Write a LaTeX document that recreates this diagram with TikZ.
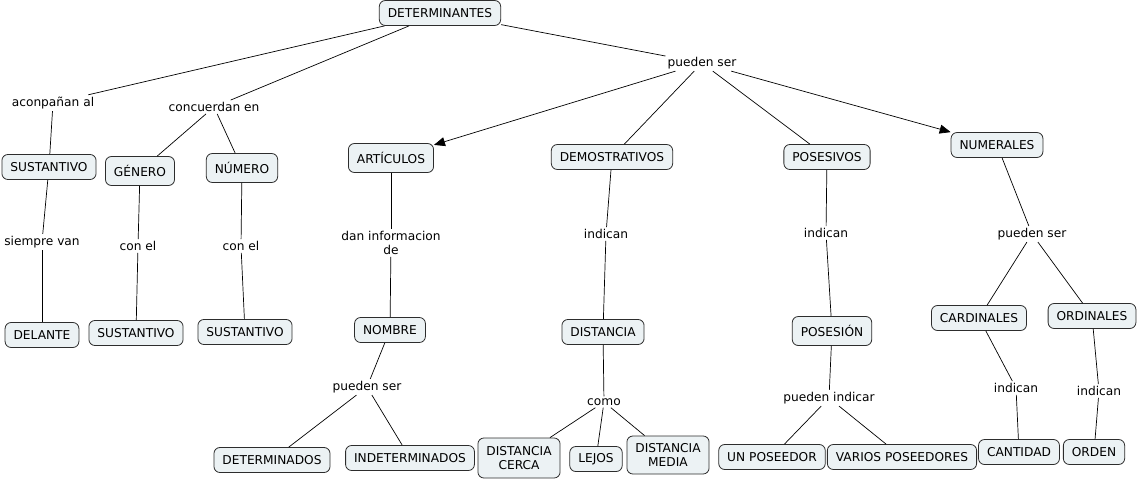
\documentclass[tikz,border=0pt]{standalone}
\usepackage{fontspec}
\setmainfont{DejaVu Sans}
\usepackage{xcolor}
\usetikzlibrary{arrows.meta}
\definecolor{cfill}{RGB}{236,242,244}
\definecolor{cline}{RGB}{45,45,45}

\begin{document}
\begin{tikzpicture}[
  x=1pt,y=-1pt,
  font=\fontsize{12.2}{14}\selectfont,
  c/.style={rectangle,rounded corners=6pt,draw=cline,fill=cfill,line width=0.8pt,minimum height=25pt,inner xsep=8.5pt,inner ysep=3pt,align=center},
  ct/.style={c,minimum height=29pt},
  l/.style={inner sep=2pt,align=center},
  e/.style={line width=0.7pt},
  a/.style={e,-{Triangle[length=11pt,width=9pt]}},
]
\useasboundingbox (0,0) rectangle (1138,479);

% Root
\node[c] (det) at (440,13) {DETERMINANTES};
\node[l] (acomp) at (53,103) {aconpañan al};
\node[l] (conc) at (214,107) {concuerdan en};
\node[l] (pser) at (702,63) {pueden ser};
\draw[e] (det)--(acomp); \draw[e] (det)--(conc); \draw[e] (det)--(pser);

% Sustantivo, genero, numero
\node[c] (sust1) at (49,167) {SUSTANTIVO};
\node[ct] (gen) at (140,171) {GÉNERO};
\node[ct] (num) at (242,168) {NÚMERO};
\node[l] (siem) at (42,242) {siempre van};
\node[l] (con1) at (138,246) {con el};
\node[l] (con2) at (241,246) {con el};
\node[c] (del) at (42,335) {DELANTE};
\node[c] (sust2) at (136,333) {SUSTANTIVO};
\node[c] (sust3) at (245,332) {SUSTANTIVO};
\draw[e] (acomp)--(sust1); \draw[e] (conc)--(gen); \draw[e] (conc)--(num);
\draw[e] (sust1)--(siem); \draw[e] (siem)--(del);
\draw[e] (gen)--(con1); \draw[e] (con1)--(sust2);
\draw[e] (num)--(con2); \draw[e] (con2)--(sust3);

% Articulos
\node[ct] (art) at (391,158) {ARTÍCULOS};
\node[l] (dan) at (391,243) {dan informacion\\de};
\node[c] (nom) at (390,330) {NOMBRE};
\node[l] (pser3) at (367,387) {pueden ser};
\node[c] (detdos) at (272,460) {DETERMINADOS};
\node[c] (indet) at (410,458) {INDETERMINADOS};
\draw[a] (pser)--(art);
\draw[e] (art)--(dan); \draw[e] (dan)--(nom); \draw[e] (nom)--(pser3);
\draw[e] (pser3)--(detdos); \draw[e] (pser3)--(indet);

% Demostrativos
\node[c] (dem) at (612,157) {DEMOSTRATIVOS};
\node[l] (ind1) at (606,234) {indican};
\node[c] (dist) at (603,332) {DISTANCIA};
\node[l] (como) at (604,402) {como};
\node[c,minimum height=40pt] (cerca) at (519,458) {DISTANCIA\\CERCA};
\node[c] (lejos) at (596,459) {LEJOS};
\node[c,minimum height=38pt] (media) at (668,455) {DISTANCIA\\MEDIA};
\draw[e] (pser)--(dem);
\draw[e] (dem)--(ind1); \draw[e] (ind1)--(dist); \draw[e] (dist)--(como);
\draw[e] (como)--(cerca); \draw[e] (como)--(lejos); \draw[e] (como)--(media);

% Posesivos
\node[c] (pos) at (827,157) {POSESIVOS};
\node[l] (ind2) at (826,233) {indican};
\node[ct] (pose) at (832,331) {POSESIÓN};
\node[l] (pind) at (829,398) {pueden indicar};
\node[c] (unpos) at (772,457) {UN POSEEDOR};
\node[c] (varios) at (902,457) {VARIOS POSEEDORES};
\draw[e] (pser)--(pos);
\draw[e] (pos)--(ind2); \draw[e] (ind2)--(pose); \draw[e] (pose)--(pind);
\draw[e] (pind)--(unpos); \draw[e] (pind)--(varios);

% Numerales
\node[c] (numer) at (997,145) {NUMERALES};
\node[l] (pser2) at (1032,234) {pueden ser};
\node[c] (card) at (979,318) {CARDINALES};
\node[c] (ord) at (1092,316) {ORDINALES};
\node[l] (ind3) at (1016,388) {indican};
\node[l] (ind4) at (1099,391) {indican};
\node[c] (cant) at (1019,452) {CANTIDAD};
\node[c] (orden) at (1094,452) {ORDEN};
\draw[a] (pser)--(numer);
\draw[e] (numer)--(pser2); \draw[e] (pser2)--(card); \draw[e] (pser2)--(ord);
\draw[e] (card)--(ind3); \draw[e] (ind3)--(cant);
\draw[e] (ord)--(ind4); \draw[e] (ind4)--(orden);
\end{tikzpicture}
\end{document}
